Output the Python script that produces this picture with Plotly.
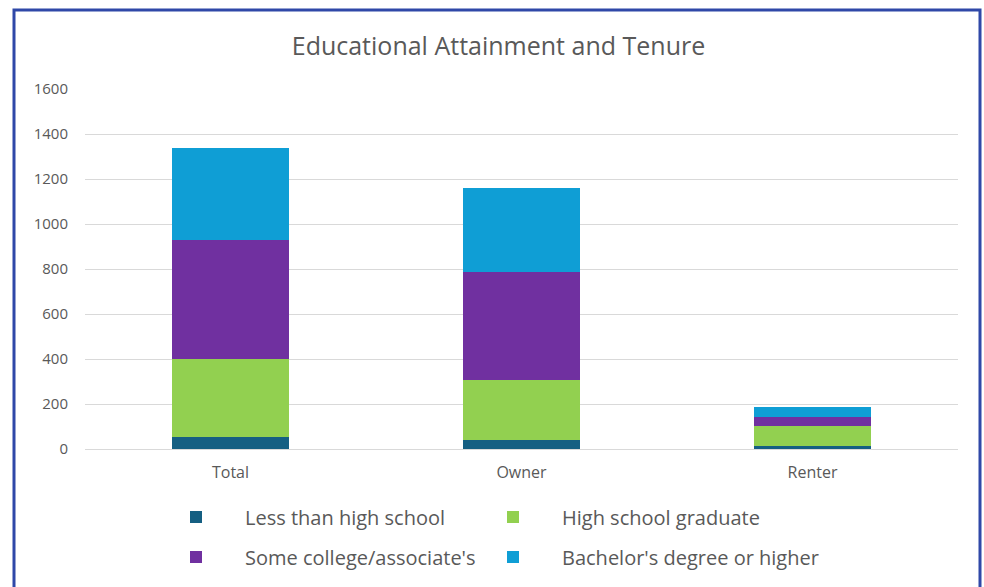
import plotly.graph_objects as go

categories = ["Total", "Owner", "Renter"]
series_names = ["Less than high school", "High school graduate",
                "Some college/associate's", "Bachelor's degree or higher"]
less_than_hs = [52, 40, 12]
hs_graduate = [348, 265, 90]
some_college = [530, 480, 42]
bachelors = [410, 375, 41]
colors = ["#155F82", "#92D050", "#7030A0", "#0F9ED5"]
y_ticks = [0, 200, 400, 600, 800, 1000, 1200, 1400, 1600]

W, H = 984, 587
L, R, T, B = 85, 26, 89, 138
pw, ph = W - L - R, H - T - B

def px_to_paper_x(px):
    return (px - L) / pw

def px_to_paper_y(py):
    return (H - B - py) / ph

font_fam = "Open Sans, Lato, sans-serif"
gray = "#595959"

legend_ids = ["legend", "legend2", "legend3", "legend4"]
legend_pos = [(147, 517), (464, 517), (147, 557), (464, 557)]

fig = go.Figure()
values = [less_than_hs, hs_graduate, some_college, bachelors]
for name, vals, col, lid in zip(series_names, values, colors, legend_ids):
    fig.add_trace(go.Bar(
        x=categories, y=vals, name=name, marker=dict(color=col, line=dict(width=0)),
        legend=lid,
    ))

legend_common = dict(
    orientation="v", itemwidth=88, font=dict(family=font_fam, size=20, color=gray),
    bgcolor="rgba(0,0,0,0)", xanchor="left", yanchor="middle",
    itemclick=False, itemdoubleclick=False,
)
legends = {lid: dict(**legend_common, x=px_to_paper_x(px), y=px_to_paper_y(py))
           for lid, (px, py) in zip(legend_ids, legend_pos)}

fig.update_layout(
    width=W, height=H,
    margin=dict(l=L, r=R, t=T, b=B, autoexpand=False),
    paper_bgcolor="white", plot_bgcolor="white",
    barmode="stack", bargap=0.6,
    title=dict(text="Educational Attainment and Tenure", x=498.5 / W, xanchor="center",
               y=1 - 46 / H, yanchor="middle",
               font=dict(family=font_fam, size=25, color=gray)),
    xaxis=dict(showgrid=False, showline=False, ticks="", ticklabelstandoff=12,
               tickfont=dict(family=font_fam, size=16, color=gray)),
    yaxis=dict(range=[0, 1600], tickvals=y_ticks, showgrid=True, gridcolor="#d9d9d9",
               gridwidth=1, zeroline=True, zerolinecolor="#d9d9d9", zerolinewidth=1,
               showline=False, ticks="", ticklabelstandoff=16,
               tickfont=dict(family=font_fam, size=15, color=gray)),
    showlegend=True,
    shapes=[dict(type="rect", xref="paper", yref="paper",
                 x0=px_to_paper_x(14), x1=px_to_paper_x(980),
                 y0=px_to_paper_y(620), y1=px_to_paper_y(10),
                 line=dict(color="#2F48A8", width=3), fillcolor="rgba(0,0,0,0)",
                 layer="above")],
    **legends,
)

fig.write_html("out.html")
